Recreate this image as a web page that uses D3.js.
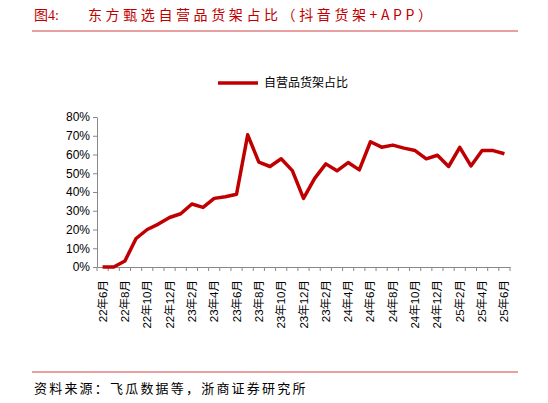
<!DOCTYPE html><html><head><meta charset="utf-8"><script src="https://d3js.org/d3.v7.min.js"></script>
<style>body{margin:0;background:#fff}</style></head><body><svg id="c" width="548" height="403"></svg>
<script>
const months=["22年6月","22年7月","22年8月","22年9月","22年10月","22年11月","22年12月","23年1月","23年2月","23年3月","23年4月","23年5月","23年6月","23年7月","23年8月","23年9月","23年10月","23年11月","23年12月","24年1月","24年2月","24年3月","24年4月","24年5月","24年6月","24年7月","24年8月","24年9月","24年10月","24年11月","24年12月","25年1月","25年2月","25年3月","25年4月","25年5月","25年6月"];
const values=[0,0,3.2,15.2,20,22.9,26.4,28.4,33.6,31.8,36.6,37.5,38.8,70.5,55.9,53.6,57.7,51.4,36.6,47.3,55,51.3,55.7,51.8,66.8,63.9,65,63.4,62.1,57.7,59.6,53.6,63.8,53.9,62.1,62.1,60.4];
const tickLabels=["22年6月","22年8月","22年10月","22年12月","23年2月","23年4月","23年6月","23年8月","23年10月","23年12月","23年2月","24年4月","24年6月","24年8月","24年10月","24年12月","25年2月","25年4月","25年6月"];
const yTicks=[0,10,20,30,40,50,60,70,80];
const svg=d3.select("#c");
const red="#c00000";
const serif="'Noto Sans CJK SC','Liberation Serif',serif";
svg.append("text").attr("x",34).attr("y",20).attr("fill",red).attr("font-size",14).attr("font-family","'Liberation Serif','Noto Sans CJK SC',serif").text("图4:");
svg.append("text").attr("x",88).attr("y",20).attr("fill",red).attr("font-size",14).attr("letter-spacing",3.6).attr("font-family",serif).text("东方甄选自营品货架占比（抖音货架+APP）");
svg.append("line").attr("x1",32).attr("x2",518).attr("y1",31).attr("y2",31).attr("stroke","#d04040").attr("stroke-width",1);
svg.append("line").attr("x1",32).attr("x2",518).attr("y1",372).attr("y2",372).attr("stroke","#d04040").attr("stroke-width",1);
svg.append("text").attr("x",34).attr("y",393).attr("font-size",13).attr("letter-spacing",2.2).attr("font-family",serif).attr("fill","#000").text("资料来源：飞瓜数据等，浙商证券研究所");
const x=d3.scaleBand().domain(months).range([97,510]);
const y=d3.scaleLinear().domain([0,80]).range([267,117]);
const ya=svg.append("g").attr("transform","translate(97,0)").call(d3.axisLeft(y).tickValues(yTicks).tickFormat(d=>d+"%").tickSize(4).tickSizeOuter(0));
ya.selectAll("text").attr("font-size",12).attr("font-family","Arial,'Liberation Sans'").attr("fill","#000");
ya.selectAll("path,line").attr("stroke","#888");
const xa=svg.append("g").attr("transform","translate(0,267)").call(d3.axisBottom(x).tickValues([]).tickSizeOuter(0));
xa.select("path").attr("stroke","#888");
const edges=months.map((m,i)=>97+i*x.step()).concat([510]);
svg.selectAll(".xt").data(edges).enter().append("line").attr("x1",d=>d).attr("x2",d=>d).attr("y1",267).attr("y2",271).attr("stroke","#888");
svg.selectAll(".xl").data(tickLabels).enter().append("text")
 .attr("transform",(d,i)=>`translate(${x(months[i*2])+x.bandwidth()/2+4},280) rotate(-90)`).attr("text-anchor","end")
 .attr("font-size",11.5).attr("font-family","Arial,'Liberation Sans','Noto Sans CJK SC'").text(d=>d);
const line=d3.line().x((d,i)=>x(months[i])+x.bandwidth()/2).y(d=>y(d));
svg.append("path").datum(values).attr("d",line).attr("fill","none").attr("stroke",red).attr("stroke-width",3.5).attr("stroke-linejoin","round");
svg.append("line").attr("x1",218).attr("x2",258).attr("y1",83).attr("y2",83).attr("stroke",red).attr("stroke-width",3.5);
svg.append("text").attr("x",264).attr("y",87).attr("font-size",12).attr("font-family","'Noto Sans CJK SC'").text("自营品货架占比");
</script></body></html>
